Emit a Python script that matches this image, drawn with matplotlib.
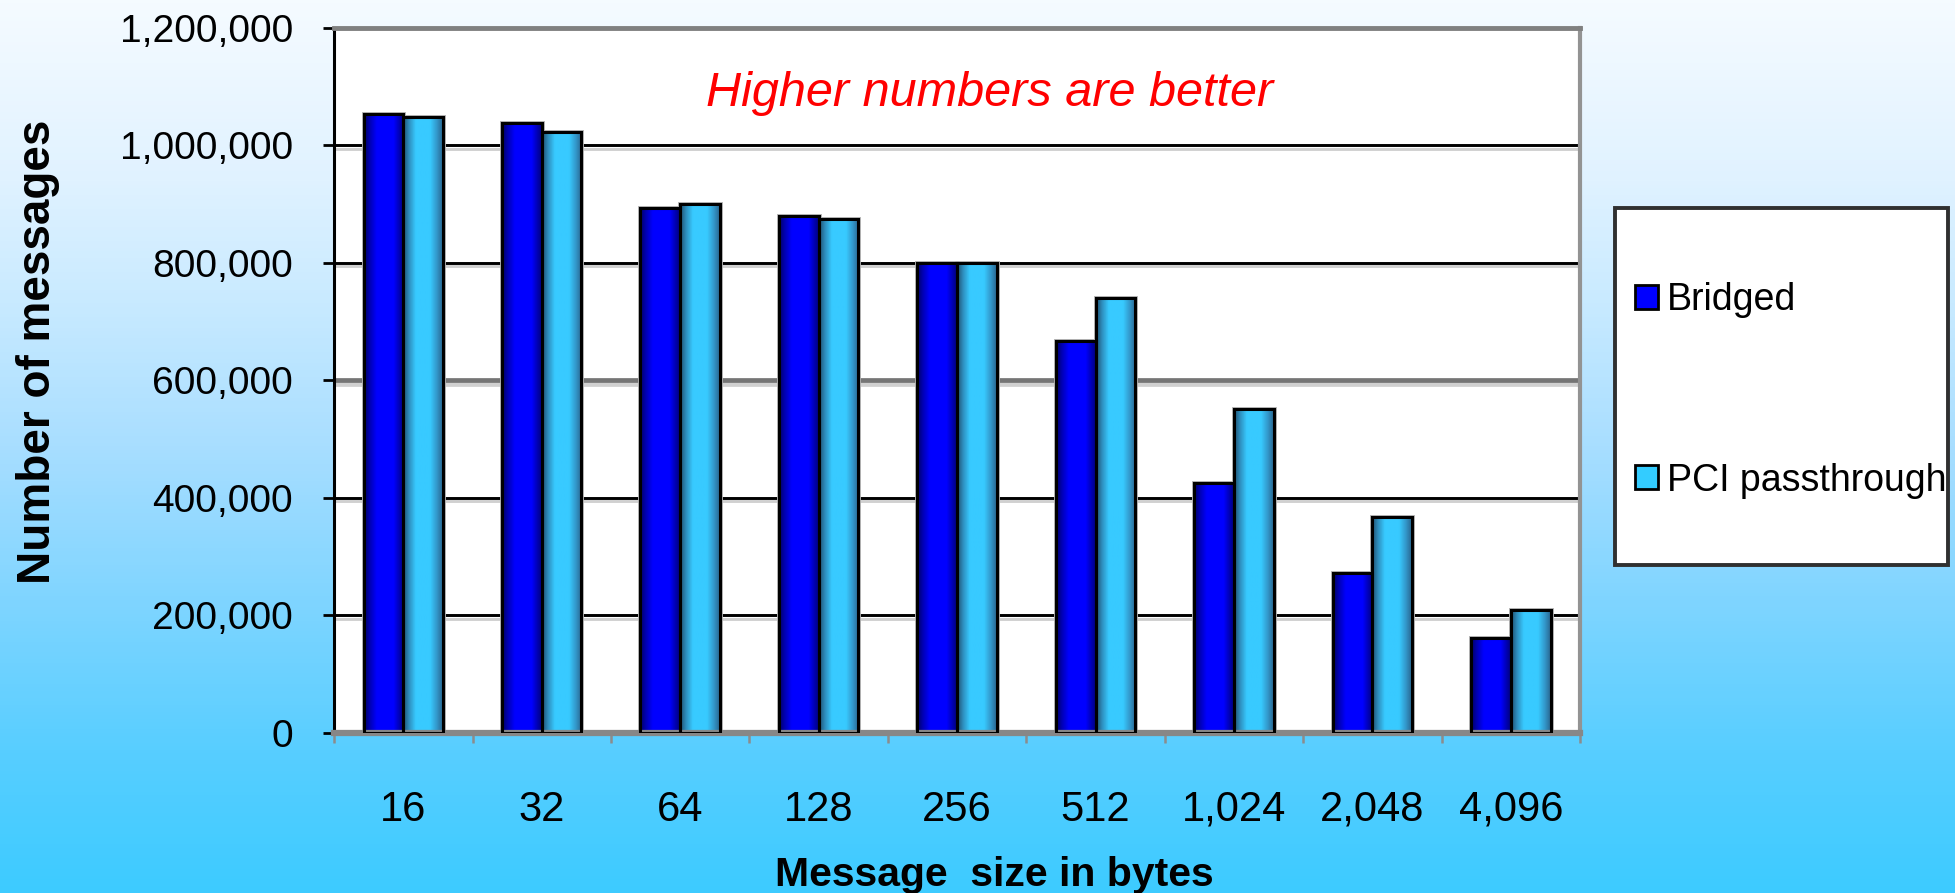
import numpy as np
import matplotlib
matplotlib.use("Agg")
import matplotlib.pyplot as plt
import matplotlib.patheffects as pe
from matplotlib.colors import LinearSegmentedColormap
from matplotlib.patches import Patch, Rectangle
from matplotlib.ticker import FuncFormatter

# data
sizes = ["16", "32", "64", "128", "256", "512", "1,024", "2,048", "4,096"]
bridged = [1054000, 1039000, 893000, 880000, 800000, 667000, 425000, 272000, 162000]
pci = [1048000, 1023000, 901000, 875000, 800000, 740000, 551000, 368000, 209000]
series_names = ["Bridged", "PCI passthrough"]
y_ticks = [0, 200000, 400000, 600000, 800000, 1000000, 1200000]

plt.rcParams["font.family"] = ["Liberation Sans", "DejaVu Sans"]

fig = plt.figure(figsize=(19.56, 8.93), dpi=100)

# light-to-cyan background
bg = fig.add_axes([0, 0, 1, 1], zorder=-10)
bg_cmap = LinearSegmentedColormap.from_list("bg", [
    (0.0, "#f5fbff"), (0.2, "#e0f2ff"), (0.34, "#c8eaff"), (0.5, "#a8deff"),
    (0.67, "#80d5ff"), (0.84, "#58ceff"), (1.0, "#3dcbff")])
bg.imshow(np.linspace(0, 1, 256).reshape(-1, 1), aspect="auto", cmap=bg_cmap,
          extent=[0, 1, 0, 1], origin="upper")
bg.axis("off")

ax = fig.add_axes([0.1708, 0.1792, 0.637, 0.7895])
ax.set_facecolor("white")
x = np.arange(len(sizes))
w = 0.287

# cylinder-like shading for each series
cmap_b = LinearSegmentedColormap.from_list("b", [
    (0.0, "#000066"), (0.15, "#0000b8"), (0.32, "#0000ff"),
    (0.75, "#0000ff"), (0.9, "#0000b0"), (1.0, "#000080")])
cmap_p = LinearSegmentedColormap.from_list("p", [
    (0.0, "#1f5070"), (0.15, "#2e90c0"), (0.32, "#38caff"),
    (0.68, "#38caff"), (0.85, "#3399cc"), (1.0, "#2a6690")])

grad = np.linspace(0, 1, 64).reshape(1, -1)
for xs, vals, cm in [(x - w / 2, bridged, cmap_b), (x + w / 2, pci, cmap_p)]:
    # soft grey halo behind the bars
    ax.bar(xs, vals, w, color="#b0b0b0", edgecolor="#b0b0b0", lw=3.5, zorder=1.5)
    bars = ax.bar(xs, vals, w, facecolor="none", edgecolor="black", lw=2.2, zorder=3)
    for b in bars:
        x0 = b.get_x()
        ax.imshow(grad, cmap=cm, aspect="auto", zorder=2,
                  extent=[x0, x0 + b.get_width(), 0, b.get_height()])

# gridlines with a light shadow
for v in y_ticks[1:-1]:
    col = "#757575" if v == 600000 else "black"
    lw = 3.4 if v == 600000 else 2.1
    ax.axhline(v, color=col, lw=lw, zorder=1,
               path_effects=[pe.SimpleLineShadow(offset=(0, -2.2), shadow_color="#d0d0d0", alpha=1),
                             pe.Normal()])

ax.set_xlim(-0.5, len(sizes) - 0.5)
ax.set_ylim(0, 1200000)
ax.set_yticks(y_ticks)
ax.yaxis.set_major_formatter(FuncFormatter(lambda v, p: f"{v:,.0f}"))
ax.set_xticks(x, sizes)
ax.set_xticks(np.arange(-0.5, len(sizes)), minor=True)

ax.tick_params(axis="y", length=8, width=2, color="black", pad=21.5, labelsize=28)
ax.tick_params(axis="x", which="major", length=0, pad=41, labelsize=30)
ax.tick_params(axis="x", which="minor", length=7, width=1.8, color="#8c8c8c")

ax.spines["left"].set_color("black")
ax.spines["left"].set_linewidth(2.2)
ax.spines["bottom"].set_color("#878787")
ax.spines["bottom"].set_linewidth(4.5)
ax.spines["top"].set_color("#808080")
ax.spines["top"].set_linewidth(3.5)
ax.spines["right"].set_color("#939393")
ax.spines["right"].set_linewidth(3)

fig.text(38 / 1956, 1 - 352 / 893, "Number of messages", rotation=90,
         fontsize=33, fontweight="bold", ha="center", va="center")
fig.text(0.5084, 0.0078, "Message  size in bytes", fontsize=29.5,
         fontweight="bold", ha="center", va="baseline")
fig.text(0.506, 1 - 106 / 893, "Higher numbers are better", color="red",
         fontsize=35, fontstyle="italic", ha="center", va="baseline")

# legend box
box = Rectangle((0.8257, 0.3673), 0.1702, 0.3998, transform=fig.transFigure,
                facecolor="white", edgecolor="#303030", lw=2.8)
fig.add_artist(box)
handles = [Patch(facecolor="#0000ff", edgecolor="black", lw=2),
           Patch(facecolor="#33ccff", edgecolor="black", lw=2)]
fig.legend(handles, series_names, loc="upper left", bbox_to_anchor=(0.8359, 0.684),
           frameon=False, borderpad=0, borderaxespad=0, fontsize=27,
           handlelength=0.6, handleheight=0.6, handletextpad=0.25, labelspacing=3.85)

fig.savefig("out.png", dpi=100)
